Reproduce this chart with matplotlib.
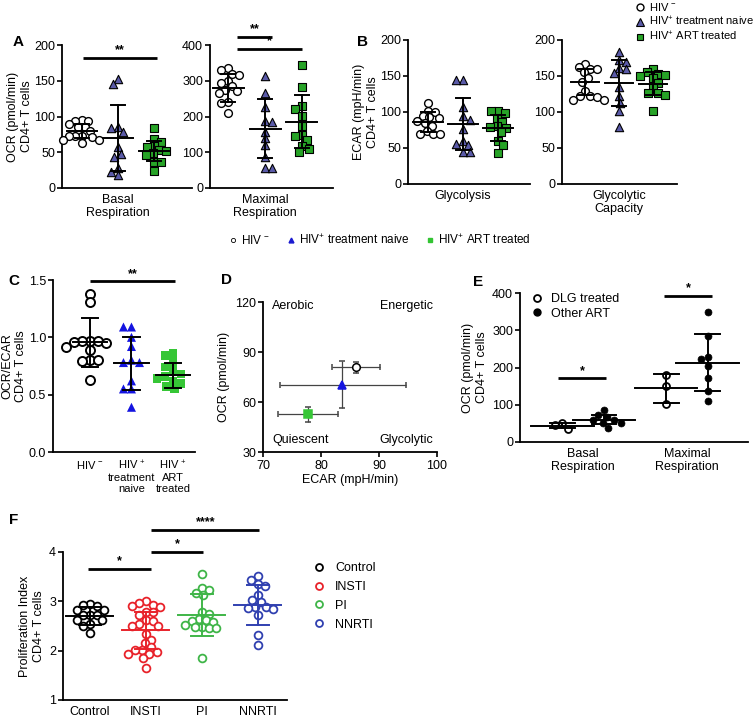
import numpy as np
import matplotlib
matplotlib.use("Agg")
from matplotlib import pyplot as plt
from matplotlib.lines import Line2D

plt.rcParams['font.family'] = ['Liberation Sans', 'DejaVu Sans']
plt.rcParams['mathtext.fontset'] = 'custom'
plt.rcParams['mathtext.rm'] = 'Liberation Sans'
plt.rcParams['mathtext.default'] = 'regular'

# panel A: OCR (pmol/min)
basal_neg = [95, 94, 94, 90, 86, 85, 80, 73, 73, 73, 71, 67, 67, 63]
basal_naive = [153, 146, 85, 84, 79, 57, 48, 44, 28, 23, 18]
basal_art = [84, 69, 65, 59, 57, 53, 52, 49, 46, 37, 36, 24]
basal_mean = [80, 70, 52]
basal_sd = [10, 46, 14]

max_neg = [336, 331, 320, 317, 300, 295, 284, 275, 272, 265, 240, 238, 210]
max_naive = [312, 265, 226, 188, 186, 158, 139, 120, 87, 56, 56]
max_art = [344, 282, 228, 221, 202, 174, 148, 146, 134, 118, 108, 101]
max_mean = [280, 166, 185]
max_sd = [40, 82, 74]

# panel B: ECAR (mpH/min)
gly_neg = [112, 102, 100, 95, 93, 92, 88, 85, 80, 74, 70, 70, 70]
gly_naive = [144, 144, 107, 94, 89, 77, 60, 56, 54, 45, 45]
gly_art = [101, 101, 99, 92, 86, 80, 79, 78, 72, 60, 54, 43]
gly_mean = [86, 83, 78]
gly_sd = [14, 36, 18]

cap_neg = [167, 162, 160, 160, 155, 147, 141, 129, 122, 122, 121, 117, 117]
cap_naive = [183, 172, 170, 161, 160, 154, 135, 122, 113, 101, 79]
cap_art = [160, 155, 153, 152, 150, 147, 140, 133, 127, 126, 124, 102]
cap_mean = [142, 140, 139]
cap_sd = [18, 32, 16]

# panel C: OCR/ECAR
ratio_neg = [1.38, 1.31, 0.97, 0.97, 0.97, 0.96, 0.95, 0.92, 0.89, 0.80, 0.80, 0.79, 0.63]
ratio_naive = [1.09, 1.09, 1.0, 0.92, 0.80, 0.78, 0.78, 0.62, 0.55, 0.55, 0.39]
ratio_art = [0.86, 0.84, 0.78, 0.74, 0.70, 0.68, 0.66, 0.64, 0.62, 0.60, 0.57, 0.55]
ratio_mean = [0.955, 0.775, 0.67]
ratio_sd = [0.21, 0.23, 0.11]
c_labels = ['HIV $^{-}$', 'HIV $^{+}$\ntreatment\nnaive', 'HIV $^{+}$\nART\ntreated']

# panel D: energy map
d_ecar = [86.0, 83.7, 77.7]
d_ecar_lo = [81.9, 72.9, 72.5]
d_ecar_hi = [90.1, 94.6, 83.0]
d_ocr = [80.8, 70.2, 52.6]
d_ocr_lo = [77.4, 56.6, 48.0]
d_ocr_hi = [83.8, 84.6, 57.2]

# panel E: DLG vs other ART
dlg_basal = [50, 46, 35]
other_basal = [86, 72, 68, 60, 58, 52, 50, 37]
dlg_max = [179, 151, 102]
other_max = [349, 285, 229, 222, 205, 171, 138, 111]
dlg_mean = [44, 144]
dlg_sd = [6, 38]
other_mean = [60, 213]
other_sd = [13, 77]
e_labels = ['Basal\nRespiration', 'Maximal\nRespiration']

# panel F: proliferation index
f_names = ['Control', 'INSTI', 'PI', 'NNRTI']
ctrl = [2.95, 2.92, 2.90, 2.82, 2.82, 2.72, 2.72, 2.72, 2.62, 2.62, 2.54, 2.50, 2.36]
insti = [3.0, 2.96, 2.92, 2.90, 2.88, 2.79, 2.78, 2.72, 2.62, 2.60, 2.55, 2.50, 2.50,
         2.33, 2.22, 2.15, 2.08, 2.02, 2.01, 1.98, 1.94, 1.93, 1.85, 1.64]
pi = [3.56, 3.27, 3.22, 3.16, 3.12, 2.78, 2.75, 2.65, 2.62, 2.60, 2.58, 2.52, 2.48,
      2.47, 2.45, 2.45, 1.85]
nnrti = [3.52, 3.44, 3.36, 3.31, 3.12, 3.02, 2.99, 2.89, 2.88, 2.86, 2.84, 2.72, 2.31, 2.11]
f_mean = [2.70, 2.41, 2.72, 2.93]
f_sd = [0.18, 0.37, 0.42, 0.40]
f_colors = ['black', '#e8222a', '#3fb548', '#3040b0']

W, H = 754, 718
FS = 9
fig = plt.figure(figsize=(W / 100, H / 100), dpi=100)

TRI = '#5a5aa8'
SQ = '#27a327'


def px_axes(x0, y0, x1, y1):
    return fig.add_axes([x0 / W, 1 - y1 / H, (x1 - x0) / W, (y1 - y0) / H])


def style(ax):
    for s in ['top', 'right']:
        ax.spines[s].set_visible(False)
    for s in ['left', 'bottom']:
        ax.spines[s].set_linewidth(1.3)
    ax.tick_params(axis='y', length=3.5, width=1.2, labelsize=FS, pad=1.5)
    ax.tick_params(axis='x', length=0, labelsize=FS, pad=4)


def swarm(ax, x0, vals, d):
    # simple beeswarm in pixel space, d = min centre distance in px
    vals = np.asarray(vals, float)
    pix = ax.transData.transform(np.column_stack([np.full(len(vals), x0), vals]))
    cx = pix[0, 0]
    ys = pix[:, 1]
    xs = np.full(len(vals), cx)
    placed = []
    for n, i in enumerate(np.argsort(-ys)):
        best = None
        first = 1 if n % 2 == 0 else -1
        for k in range(80):
            for sgn in ([0] if k == 0 else [first, -first]):
                off = sgn * k * d * 0.2
                if all((off - px) ** 2 + (ys[i] - py) ** 2 >= d * d for px, py in placed):
                    best = off
                    break
            if best is not None:
                break
        placed.append((best, ys[i]))
        xs[i] = cx + best
    return ax.transData.inverted().transform(np.column_stack([xs, ys]))[:, 0]


def dots(ax, x0, vals, mean, sd, marker, fc, ec, ms, d, mw, cw, lc='black', mlw=1.0):
    xs = swarm(ax, x0, vals, d)
    ax.scatter(xs, vals, s=ms ** 2, marker=marker, facecolors=fc, edgecolors=ec,
               linewidths=mlw, zorder=3, clip_on=False)
    ax.plot([x0 - mw, x0 + mw], [mean, mean], color=lc, lw=1.4, zorder=4)
    ax.plot([x0, x0], [mean - sd, mean + sd], color=lc, lw=1.4, zorder=4)
    for yy in (mean - sd, mean + sd):
        ax.plot([x0 - cw, x0 + cw], [yy, yy], color=lc, lw=1.4, zorder=4)


def sig(ax, x1, x2, y, txt):
    ax.plot([x1, x2], [y, y], color='black', lw=2.0, clip_on=False, solid_capstyle='butt')
    ax.annotate(txt, ((x1 + x2) / 2, y), xytext=(0, 1), textcoords='offset points',
                ha='center', va='bottom', fontsize=9, fontweight='bold', annotation_clip=False)


def hiv_panel(ax, groups, means, sds, ylim, yticks, xlim, label, ylab=None):
    style(ax)
    ax.set_xlim(*xlim)
    ax.set_ylim(*ylim)
    ax.set_yticks(yticks)
    ax.set_xticks([1])
    ax.set_xticklabels([label])
    markers = [('o', 'white', 'black', 5.6, 1.0), ('^', TRI, 'black', 6.0, 0.8),
               ('s', SQ, 'black', 5.2, 0.8)]
    for i, (vals, m, s) in enumerate(zip(groups, means, sds)):
        mk, fc, ec, ms, lw = markers[i]
        dots(ax, i, vals, m, s, mk, fc, ec, ms, 6.6, 0.42, 0.2, mlw=lw)
    if ylab:
        ax.set_ylabel(ylab, fontsize=FS, labelpad=1)


# ---- A ----
axA1 = px_axes(62, 45, 192, 188)
hiv_panel(axA1, [basal_neg, basal_naive, basal_art], basal_mean, basal_sd,
          (0, 200), [0, 50, 100, 150, 200], (-0.55, 3.05), 'Basal\nRespiration',
          'OCR (pmol/min)\nCD4+ T cells')
sig(axA1, 0.03, 2.08, 182, '**')

axA2 = px_axes(210, 45, 333, 188)
hiv_panel(axA2, [max_neg, max_naive, max_art], max_mean, max_sd,
          (0, 400), [0, 100, 200, 300, 400], (-0.49, 2.84), 'Maximal\nRespiration')
sig(axA2, 0.24, 1.2, 423, '**')
sig(axA2, 0.24, 2.0, 389, '*')

# ---- B ----
axB1 = px_axes(408, 40, 530, 184)
hiv_panel(axB1, [gly_neg, gly_naive, gly_art], gly_mean, gly_sd,
          (0, 200), [0, 50, 100, 150, 200], (-0.57, 2.91), 'Glycolysis',
          'ECAR (mpH/min)\nCD4+ T cells')

axB2 = px_axes(562, 40, 677, 184)
hiv_panel(axB2, [cap_neg, cap_naive, cap_art], cap_mean, cap_sd,
          (0, 200), [0, 50, 100, 150, 200], (-0.68, 2.7), 'Glycolytic\nCapacity')

# top-right legend
top_handles = [
    Line2D([], [], ls='none', marker='o', ms=5, mfc='white', mec='black', mew=1.0),
    Line2D([], [], ls='none', marker='^', ms=5.5, mfc=TRI, mec='black', mew=0.8),
    Line2D([], [], ls='none', marker='s', ms=5, mfc=SQ, mec='black', mew=0.8),
]
fig.legend(top_handles, ['HIV $^{-}$', 'HIV$^{+}$ treatment naive', 'HIV$^{+}$ ART treated'],
           loc='upper left', bbox_to_anchor=(636 / W, 1 - 1 / H), frameon=False,
           fontsize=8, handlelength=0.8, handletextpad=0.4, labelspacing=0.15,
           borderpad=0, borderaxespad=0)

# middle legend row
mid_handles = [
    Line2D([], [], ls='none', marker='o', ms=3, mfc='white', mec='black', mew=0.6),
    Line2D([], [], ls='none', marker='^', ms=3.5, mfc='#1a1ad0', mec='#1a1ad0'),
    Line2D([], [], ls='none', marker='s', ms=3, mfc='#33c433', mec='#33c433'),
]
fig.legend(mid_handles, ['HIV $^{-}$', 'HIV$^{+}$ treatment naive', 'HIV$^{+}$ ART treated'],
           loc='center', bbox_to_anchor=(380 / W, 1 - 240 / H), ncol=3, frameon=False,
           fontsize=8.5, handlelength=0.6, handletextpad=0.4, columnspacing=1.4,
           borderpad=0, borderaxespad=0)

# ---- C ----
axC = px_axes(53, 280, 195, 452)
style(axC)
axC.set_xlim(-0.89, 2.53)
axC.set_ylim(0, 1.5)
axC.set_yticks([0, 0.5, 1.0, 1.5])
axC.set_yticklabels(['0.0', '0.5', '1.0', '1.5'])
axC.set_xticks([0, 1, 2])
axC.set_xticklabels(c_labels, linespacing=1.1)
axC.tick_params(axis='x', pad=5, labelsize=8)
cmark = [('o', 'white', 'black', 6.5, 1.4), ('^', '#1414e0', 'none', 6.5, 0),
         ('s', '#36c636', 'none', 6.2, 0)]
for i, vals in enumerate([ratio_neg, ratio_naive, ratio_art]):
    mk, fc, ec, ms, lw = cmark[i]
    dots(axC, i, vals, ratio_mean[i], ratio_sd[i], mk, fc, ec, ms, 8.0, 0.42, 0.2, mlw=lw)
axC.set_ylabel('OCR/ECAR\nCD4+ T cells', fontsize=FS, labelpad=1)
sig(axC, 0.0, 2.05, 1.49, '**')

# ---- D ----
axD = px_axes(263, 302, 437, 452)
style(axD)
axD.tick_params(axis='x', length=3.5, width=1.2, pad=2)
axD.set_xlim(70, 100)
axD.set_ylim(30, 120)
axD.set_xticks([70, 80, 90, 100])
axD.set_yticks([30, 60, 90, 120])
dmark = [('o', 'white', 'black'), ('^', '#1414e0', '#1414e0'), ('s', '#36c636', '#36c636')]
for i in range(3):
    mk, fc, ec = dmark[i]
    axD.errorbar(d_ecar[i], d_ocr[i],
                 xerr=[[d_ecar[i] - d_ecar_lo[i]], [d_ecar_hi[i] - d_ecar[i]]],
                 yerr=[[d_ocr[i] - d_ocr_lo[i]], [d_ocr_hi[i] - d_ocr[i]]],
                 fmt=mk, ms=5.5, mfc=fc, mec=ec, mew=1.1, ecolor='#444444',
                 elinewidth=0.9, capsize=2.5, capthick=0.9, zorder=3)
axD.text(71.6, 117.5, 'Aerobic', fontsize=FS, va='center', ha='left')
axD.text(99.3, 117.5, 'Energetic', fontsize=FS, va='center', ha='right')
axD.text(71.6, 37.2, 'Quiescent', fontsize=FS, va='center', ha='left')
axD.text(99.3, 37.2, 'Glycolytic', fontsize=FS, va='center', ha='right')
axD.set_xlabel('ECAR (mpH/min)', fontsize=FS, labelpad=2)
axD.set_ylabel('OCR (pmol/min)', fontsize=FS, labelpad=4)

# ---- E ----
axE = px_axes(520, 293, 748, 442)
style(axE)
axE.set_xlim(-0.61, 1.59)
axE.set_ylim(0, 400)
axE.set_yticks([0, 100, 200, 300, 400])
axE.set_xticks([0, 1])
axE.set_xticklabels(e_labels)
for j, (dv, ov) in enumerate([(dlg_basal, other_basal), (dlg_max, other_max)]):
    dots(axE, j - 0.2, dv, dlg_mean[j], dlg_sd[j], 'o', 'white', 'black', 5.0, 7.0, 0.3, 0.12, mlw=1.3)
    dots(axE, j + 0.2, ov, other_mean[j], other_sd[j], 'o', 'black', 'black', 5.0, 7.0, 0.3, 0.12, mlw=0.5)
sig(axE, -0.24, 0.22, 171, '*')
sig(axE, 0.78, 1.24, 392, '*')
axE.set_ylabel('OCR (pmol/min)\nCD4+ T cells', fontsize=FS, labelpad=3)
e_handles = [
    Line2D([], [], ls='none', marker='o', ms=5, mfc='white', mec='black', mew=1.3),
    Line2D([], [], ls='none', marker='o', ms=5, mfc='black', mec='black'),
]
axE.legend(e_handles, ['DLG treated', 'Other ART'], loc='upper left',
           bbox_to_anchor=(0.02, 1.04), frameon=False, fontsize=FS,
           handlelength=1.0, handletextpad=0.6, labelspacing=0.2, borderpad=0)

# ---- F ----
axF = px_axes(63, 552, 287, 700)
style(axF)
axF.set_xlim(-0.48, 3.52)
axF.set_ylim(1, 4)
axF.set_yticks([1, 2, 3, 4])
axF.set_xticks([0, 1, 2, 3])
axF.set_xticklabels(f_names)
for i, vals in enumerate([ctrl, insti, pi, nnrti]):
    dots(axF, i, vals, f_mean[i], f_sd[i], 'o', 'white', f_colors[i], 5.6, 6.9, 0.42, 0.2,
         lc=f_colors[i], mlw=1.3)
sig(axF, -0.04, 1.1, 3.66, '*')
sig(axF, 1.1, 2.02, 4.0, '*')
sig(axF, 1.1, 3.02, 4.45, '****')
axF.set_ylabel('Proliferation Index\nCD4+ T cells', fontsize=FS, labelpad=3)
f_handles = [Line2D([], [], ls='none', marker='o', ms=5, mfc='white', mec=c, mew=1.3)
             for c in f_colors]
fig.legend(f_handles, f_names, loc='upper left', bbox_to_anchor=(314 / W, 1 - 562 / H),
           frameon=False, fontsize=FS, handlelength=0.8, handletextpad=0.9,
           labelspacing=0.55, borderpad=0, borderaxespad=0)

# panel letters
for lab, x, y in [('A', 18, 42), ('B', 363, 42), ('C', 14, 281), ('D', 226, 280),
                  ('E', 478, 282), ('F', 14, 520)]:
    fig.text(x / W, 1 - y / H, lab, fontsize=11, fontweight='bold', ha='center', va='center')

fig.savefig('out.png', dpi=100)
